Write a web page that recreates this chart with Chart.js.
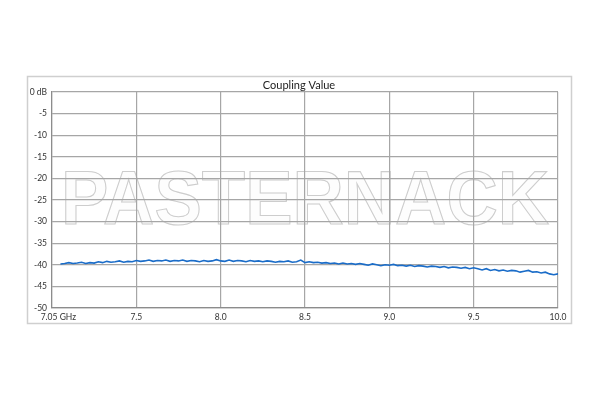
<!DOCTYPE html>
<html lang="en">
<head>
    <meta charset="UTF-8">
    <title>Coupling Value</title>
    <script src="https://cdn.jsdelivr.net/npm/chart.js"></script>
    <style>
        html, body { margin: 0; padding: 0; background: #fff; }
        #wrap { width: 600px; height: 400px; }
    </style>
</head>
<body>
    <div id="wrap"><canvas id="couplingChart" width="600" height="400"></canvas></div>
    <script>
        // frequency points (GHz)
        const freqs = [
            7.050, 7.075, 7.100, 7.125, 7.150, 7.175, 7.200, 7.225, 7.250, 7.275,
            7.300, 7.325, 7.350, 7.375, 7.400, 7.425, 7.450, 7.475, 7.500, 7.525,
            7.550, 7.575, 7.600, 7.625, 7.650, 7.675, 7.700, 7.725, 7.750, 7.775,
            7.800, 7.825, 7.850, 7.875, 7.900, 7.925, 7.950, 7.975, 8.000, 8.025,
            8.050, 8.075, 8.100, 8.125, 8.150, 8.175, 8.200, 8.225, 8.250, 8.275,
            8.300, 8.325, 8.350, 8.375, 8.400, 8.425, 8.450, 8.475, 8.500, 8.525,
            8.550, 8.575, 8.600, 8.625, 8.650, 8.675, 8.700, 8.725, 8.750, 8.775,
            8.800, 8.825, 8.850, 8.875, 8.900, 8.925, 8.950, 8.975, 9.000, 9.025,
            9.050, 9.075, 9.100, 9.125, 9.150, 9.175, 9.200, 9.225, 9.250, 9.275,
            9.300, 9.325, 9.350, 9.375, 9.400, 9.425, 9.450, 9.475, 9.500, 9.525,
            9.550, 9.575, 9.600, 9.625, 9.650, 9.675, 9.700, 9.725, 9.750, 9.775,
            9.800, 9.825, 9.850, 9.875, 9.900, 9.925, 9.950, 9.975, 10.000
        ];

        // coupling (dB)
        const coupling = [
            -39.8, -39.7, -39.5, -39.7, -39.6, -39.4, -39.7, -39.5, -39.6, -39.3,
            -39.5, -39.2, -39.4, -39.3, -39.1, -39.4, -39.2, -39.3, -39.0, -39.2,
            -39.1, -38.9, -39.2, -39.0, -39.1, -38.9, -39.2, -39.0, -39.1, -38.9,
            -39.2, -39.0, -39.1, -39.3, -39.0, -39.2, -39.1, -38.8, -39.1, -39.2,
            -38.9, -39.2, -39.0, -39.1, -39.3, -39.0, -39.2, -39.1, -39.3, -39.1,
            -39.2, -39.4, -39.2, -39.3, -39.1, -39.4, -39.3, -38.9, -39.5, -39.3,
            -39.5, -39.4, -39.6, -39.5, -39.7, -39.6, -39.8, -39.6, -39.8, -39.7,
            -39.9, -39.7, -39.9, -40.1, -39.8, -40.0, -40.2, -40.0, -40.1, -39.9,
            -40.2, -40.1, -40.3, -40.1, -40.4, -40.2, -40.3, -40.5, -40.3, -40.4,
            -40.6, -40.4, -40.7, -40.5, -40.6, -40.8, -40.6, -40.9, -40.7, -40.9,
            -41.2, -40.9, -41.3, -41.1, -41.4, -41.2, -41.5, -41.3, -41.4, -41.7,
            -41.5, -41.3, -41.7, -41.6, -41.9, -41.7, -42.1, -42.3, -42.1
        ];

        // axis ticks
        const xTickValues = [7.0, 7.5, 8.0, 8.5, 9.0, 9.5, 10.0];
        const xTickLabels = ['\u2002\u2002\u20027.05 GHz', '7.5', '8.0', '8.5', '9.0', '9.5', '10.0'];
        const yTickValues = [0, -5, -10, -15, -20, -25, -30, -35, -40, -45, -50];
        const yTickLabels = ['0 dB', '-5', '-10', '-15', '-20', '-25', '-30', '-35', '-40', '-45', '-50'];

        const fontFamily = 'Lato, "Liberation Sans", sans-serif';

        // outer frame + watermark, under the grid; title on top
        const backdrop = {
            id: 'backdrop',
            beforeDraw(chart) {
                const ctx = chart.ctx;
                ctx.save();
                ctx.strokeStyle = '#cfcfcf';
                ctx.lineWidth = 1.5;
                ctx.strokeRect(27.5, 76.5, 544, 247);

                ctx.font = 'bold 76px "Liberation Sans", Arial, sans-serif';
                const text = 'PASTERNACK';
                const w = ctx.measureText(text).width;
                const left = 61, right = 549, base = 224;
                ctx.translate(left, base);
                ctx.scale((right - left) / w, 1);
                ctx.fillStyle = '#fdfdfd';
                ctx.strokeStyle = '#cdcdcd';
                ctx.lineWidth = 1.1;
                ctx.fillText(text, 0, 0);
                ctx.strokeText(text, 0, 0);
                ctx.restore();
            },
            afterDraw(chart) {
                const ctx = chart.ctx;
                ctx.save();
                ctx.font = '11px ' + fontFamily;
                ctx.fillStyle = '#222';
                ctx.textAlign = 'center';
                ctx.textBaseline = 'middle';
                ctx.fillText('Coupling Value', 299, 85);
                ctx.restore();
            }
        };

        new Chart(document.getElementById('couplingChart'), {
            type: 'line',
            data: {
                datasets: [{
                    label: 'Coupling',
                    data: freqs.map((f, i) => ({ x: f, y: coupling[i] })),
                    borderColor: '#1a6cc8',
                    borderWidth: 1.6,
                    pointRadius: 0,
                    tension: 0,
                    fill: false
                }]
            },
            options: {
                responsive: false,
                animation: false,
                layout: { padding: { left: 0, right: 42, top: 92, bottom: 75 } },
                plugins: {
                    legend: { display: false },
                    tooltip: { enabled: false },
                    title: { display: false }
                },
                scales: {
                    x: {
                        type: 'linear',
                        min: 7.0,
                        max: 10.0,
                        afterBuildTicks: s => { s.ticks = xTickValues.map(v => ({ value: v })); },
                        afterFit: s => { s.height = 17; },
                        ticks: {
                            maxRotation: 0,
                            autoSkip: false,
                            padding: 4,
                            color: '#333',
                            font: { family: fontFamily, size: 8.5 },
                            callback: v => xTickLabels[xTickValues.indexOf(v)]
                        },
                        grid: { color: '#a6a6a6', lineWidth: 1.2, drawTicks: false },
                        border: { color: '#8c8c8c', width: 1.2 }
                    },
                    y: {
                        min: -50,
                        max: 0,
                        afterBuildTicks: s => { s.ticks = yTickValues.map(v => ({ value: v })); },
                        afterFit: s => { s.width = 52; },
                        ticks: {
                            padding: 5,
                            color: '#333',
                            font: { family: fontFamily, size: 8.5 },
                            callback: v => yTickLabels[yTickValues.indexOf(v)]
                        },
                        grid: { color: '#a6a6a6', lineWidth: 1.2, drawTicks: false },
                        border: { color: '#8c8c8c', width: 1.2 }
                    }
                }
            },
            plugins: [backdrop]
        });
    </script>
</body>
</html>
